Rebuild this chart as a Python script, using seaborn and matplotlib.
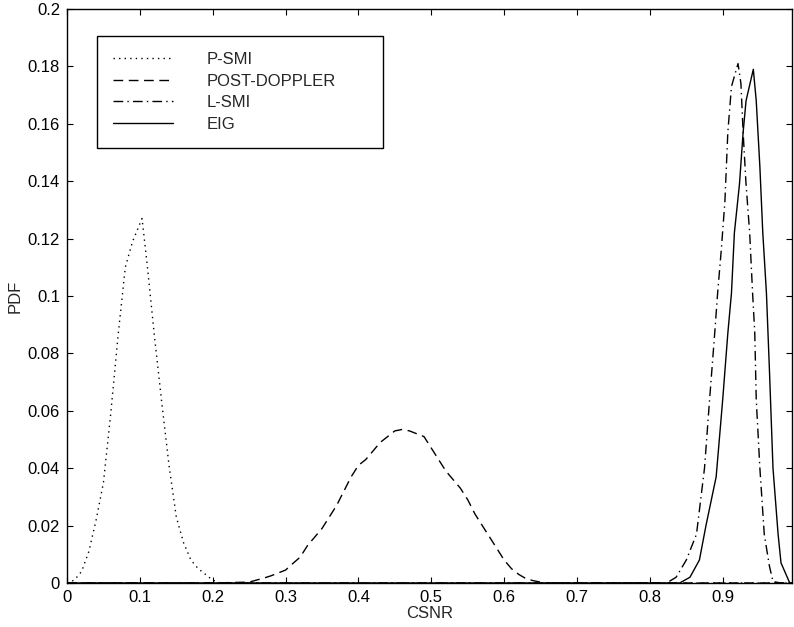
#!/usr/bin/env python3

import pandas as pd
import matplotlib
matplotlib.use('Agg')
import matplotlib.pyplot as plt
import seaborn as sns


# values
psmi_x = [0.0, 0.01, 0.02, 0.03, 0.04, 0.05, 0.06, 0.07, 0.08, 0.09, 0.103, 0.11, 0.12, 0.13,
          0.14, 0.15, 0.16, 0.17, 0.18, 0.19, 0.20, 0.21, 0.22, 0.995]
psmi_y = [0.0, 0.001, 0.004, 0.011, 0.022, 0.035, 0.059, 0.086, 0.110, 0.119, 0.127, 0.111, 0.086,
          0.063, 0.041, 0.023, 0.014, 0.008, 0.005, 0.003, 0.001, 0.0, 0.0, 0.0]

post_x = [0.0, 0.20, 0.25, 0.26, 0.27, 0.28, 0.29, 0.30, 0.31, 0.32, 0.33, 0.34, 0.35, 0.36, 0.37,
          0.38, 0.39, 0.40, 0.41, 0.42, 0.43, 0.44, 0.45, 0.46, 0.47, 0.48, 0.49, 0.50, 0.51,
          0.52, 0.53, 0.54, 0.55, 0.56, 0.57, 0.58, 0.59, 0.60, 0.61, 0.62, 0.63, 0.64, 0.65,
          0.66, 0.995]
post_y = [0.0, 0.0, 0.0003, 0.001, 0.0017, 0.0025, 0.0035, 0.0045, 0.0068, 0.009, 0.013, 0.016,
          0.019, 0.023, 0.027, 0.032, 0.037, 0.041, 0.043, 0.046, 0.049, 0.051, 0.053, 0.0535,
          0.053, 0.052, 0.051, 0.047, 0.043, 0.039, 0.036, 0.033, 0.029, 0.024, 0.020, 0.016,
          0.012, 0.008, 0.005, 0.003, 0.0015, 0.0008, 0.0003, 0.0, 0.0]

lsmi_x = [0.0, 0.823, 0.836, 0.85, 0.864, 0.875, 0.882, 0.889, 0.893, 0.898, 0.903, 0.907, 0.912,
          0.921, 0.925, 0.928, 0.932, 0.937, 0.941, 0.944, 0.946, 0.951, 0.957, 0.964, 0.969,
          0.98, 0.995]
lsmi_y = [0.0, 0.0, 0.002, 0.008, 0.017, 0.040, 0.064, 0.087, 0.101, 0.116, 0.133, 0.157, 0.173,
          0.181, 0.174, 0.157, 0.139, 0.122, 0.101, 0.087, 0.064, 0.040, 0.017, 0.006, 0.0005,
          0.0, 0.0]

eig_x = [0.0, 0.841, 0.855, 0.868, 0.877, 0.891, 0.900, 0.907, 0.912, 0.916, 0.923, 0.928, 0.932,
         0.942, 0.946, 0.951, 0.955, 0.960, 0.964, 0.969, 0.976, 0.980, 0.992, 0.995]
eig_y = [0.0, 0.0, 0.002, 0.008, 0.020, 0.037, 0.064, 0.087, 0.101, 0.122, 0.139, 0.157, 0.168,
         0.179, 0.168, 0.145, 0.122, 0.101, 0.075, 0.040, 0.017, 0.007, 0.0, 0.0]

x_ticks = [0, 0.1, 0.2, 0.3, 0.4, 0.5, 0.6, 0.7, 0.8, 0.9]
x_tick_labels = ['0', '0.1', '0.2', '0.3', '0.4', '0.5', '0.6', '0.7', '0.8', '0.9']
y_ticks = [0, 0.02, 0.04, 0.06, 0.08, 0.1, 0.12, 0.14, 0.16, 0.18, 0.2]
y_tick_labels = ['0', '0.02', '0.04', '0.06', '0.08', '0.1', '0.12', '0.14', '0.16', '0.18', '0.2']

sns.set_style('ticks')
plt.rcParams['font.family'] = ['Liberation Sans', 'DejaVu Sans']
plt.rcParams['font.size'] = 12

fig = plt.figure(figsize=(7.94, 6.27), dpi=100)
ax = fig.add_axes([0.0844, 0.0702, 0.913, 0.9154])

series = [
    ('P-SMI', psmi_x, psmi_y, (0, (1, 3))),
    ('POST-DOPPLER', post_x, post_y, (0, (7, 4))),
    ('L-SMI', lsmi_x, lsmi_y, (0, (7, 3, 1, 3))),
    ('EIG', eig_x, eig_y, '-'),
]
for name, xs, ys, ls in series:
    df = pd.DataFrame({'CSNR': xs, 'PDF': ys})
    sns.lineplot(data=df, x='CSNR', y='PDF', ax=ax, color='black', linewidth=1.0,
                 linestyle=ls, label=name, estimator=None, sort=False)

ax.set_xlim(0, 0.995)
ax.set_ylim(0, 0.2)
ax.set_xticks(x_ticks)
ax.set_xticklabels(x_tick_labels)
ax.set_yticks(y_ticks)
ax.set_yticklabels(y_tick_labels)
ax.tick_params(direction='in', top=True, right=True, length=4, width=0.8,
               colors='black', labelsize=12, pad=5)
for sp in ax.spines.values():
    sp.set_visible(True)
    sp.set_color('black')
    sp.set_linewidth(1.0)
ax.set_xlabel('CSNR', fontsize=12, labelpad=1)
ax.set_ylabel('PDF', fontsize=12, labelpad=4)

# legend box: 286 px wide, starting 30 px right / 27 px below the axes corner
leg = ax.legend(loc='upper left', bbox_to_anchor=(0.0414, 0.953 - 0.19, 0.3945, 0.19),
                mode='expand', borderaxespad=0,
                fancybox=False, edgecolor='black', framealpha=1, handlelength=3.6,
                handletextpad=2.0, labelspacing=0.4, borderpad=0.95, fontsize=12)
leg.get_frame().set_linewidth(1.0)

plt.savefig('out.png', dpi=100)
